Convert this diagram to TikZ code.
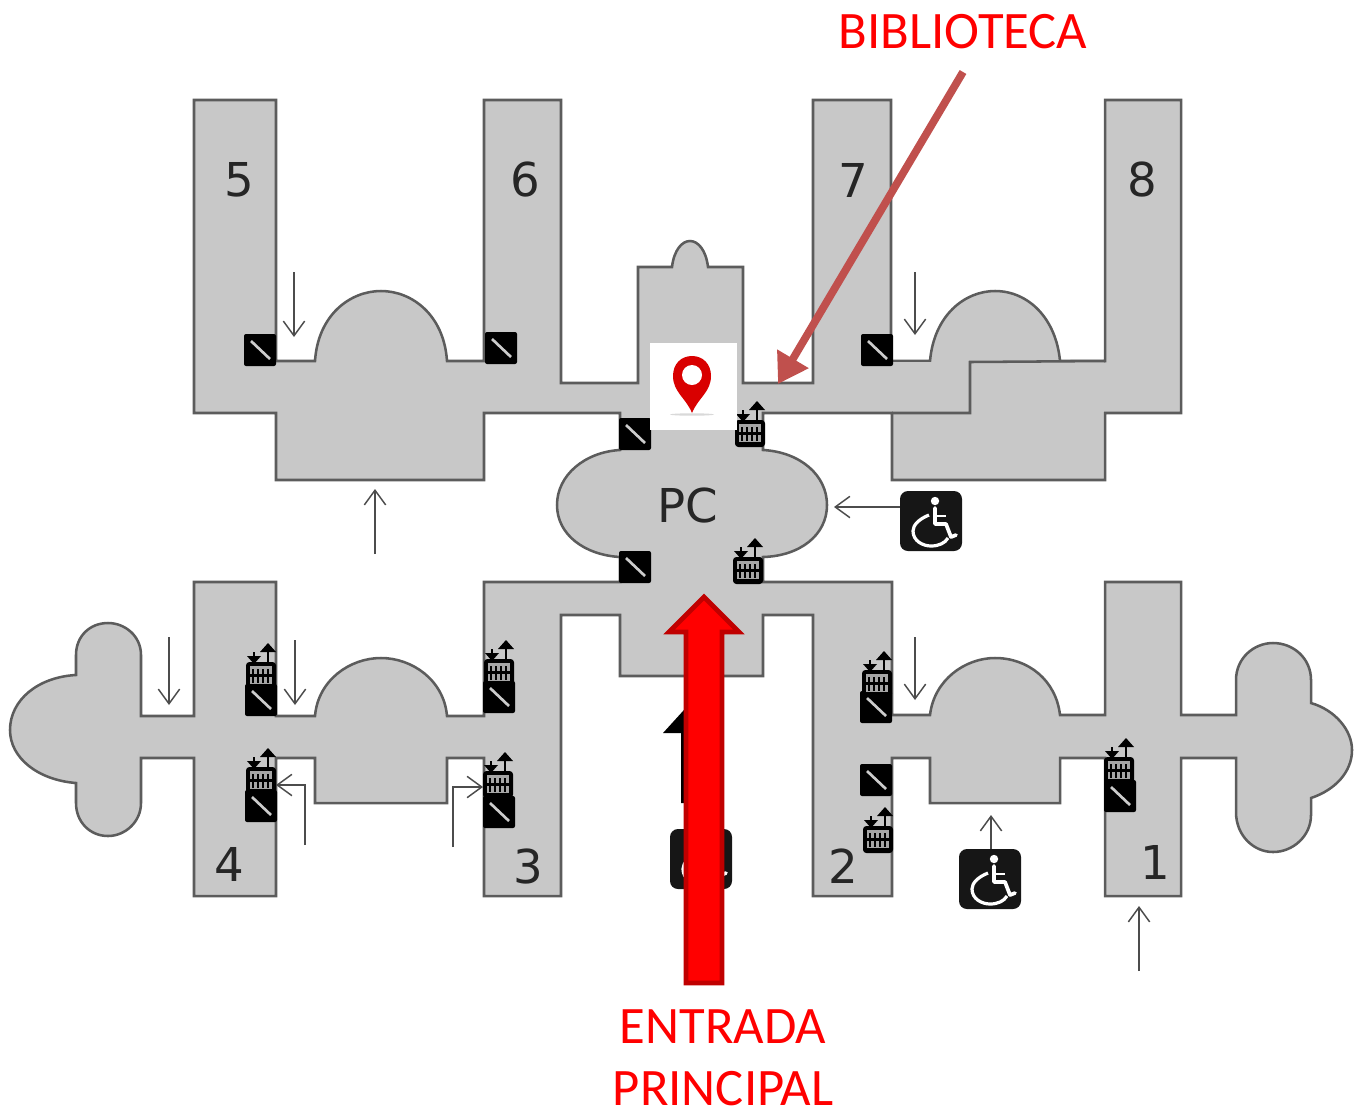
\documentclass[tikz,border=0pt]{standalone}
\usepackage{fontspec}
\setmainfont{DejaVu Sans}
\newfontfamily\carl{Carlito}
\usetikzlibrary{arrows.meta}
\definecolor{floorgray}{HTML}{C8C8C8}
\definecolor{wallgray}{HTML}{5C5C5C}
\definecolor{iconblack}{HTML}{161616}
\definecolor{libarrow}{HTML}{C0504D}
\definecolor{darkred}{HTML}{C00000}
\tikzset{
  floorplan/.style={fill=floorgray,draw=wallgray,line width=1.9pt,line join=miter},
  wallline/.style={draw=wallgray,line width=1.9pt},
  walker/.style={draw=black!70,line width=1.1pt,-{Straight Barb[length=11pt,width=16pt,line width=1.1pt]}},
  numlabel/.style={font=\fontsize{35}{35}\selectfont,text=black!85,inner sep=0pt},
  redlabel/.style={font=\carl\fontsize{39.5}{39.5}\selectfont,text=red,inner sep=0pt,anchor=base},
  escal/.pic={
    \fill[black,rounded corners=1.5pt] (-16,-16) rectangle (16,16);
    \draw[white!80!black,line width=2pt] (-9,-9) -- (10,9);
  },
  elev/.pic={
    \draw[black,line width=2pt] (-7,-3) -- (-7,-14);
    \fill[black] (-14,-10) -- (-7,-2) -- (0,-10) -- cycle;
    \draw[black,line width=2pt] (7,-3) -- (7,-14);
    \fill[black] (-1,-14) -- (7,-23) -- (15,-14) -- cycle;
    \fill[black,rounded corners=2.5pt] (-15,-4) rectangle (15,23);
    \fill[black!35] (-11,0) rectangle (11,18);
    \foreach \xx in {-8,-3,2,7} {
      \fill[black] (\xx-1,3) rectangle (\xx+1,8);
      \fill[black] (\xx-1,11) rectangle (\xx+1,17);
    }
    \fill[black] (-11,8) rectangle (11,10.5);
  },
  wheelc/.pic={
    \fill[iconblack,rounded corners=6pt] (-31,-30) rectangle (31,30);
    \fill[white] (4,-20) circle[radius=4.2];
    \draw[white,line width=2.8pt,line cap=round,line join=round]
      (4,-13) -- (4,3) -- (15,3) -- (20,16) -- (25,14);
    \draw[white,line width=2.2pt] (4,-5) -- (15,-5);
    \draw[white,line width=2.4pt] (-2,-6) .. controls (-12,-2) and (-18,4) .. (-18,10)
      .. controls (-18,20) and (-8,25) .. (0,25)
      .. controls (8,25) and (14,22) .. (17,17);
  }
}
\begin{document}
\begin{tikzpicture}[x=0.75pt,y=-0.75pt]
\useasboundingbox (0,0) rectangle (1362,1111);
% floor plan outline
\path[floorplan]
 (194,100) -- (276,100) -- (276,361) -- (315,361)
 .. controls (318,315) and (350,291) .. (381,291)
 .. controls (412,291) and (444,315) .. (447,361)
 -- (484,361) -- (484,100) -- (561,100) -- (561,383) -- (638,383) -- (638,267) -- (672,267)
 .. controls (674,250) and (682,241) .. (690,241)
 .. controls (698,241) and (706,250) .. (708,267)
 -- (743,267) -- (743,383) -- (813,383) -- (813,100) -- (891,100) -- (891,361) -- (930,361)
 .. controls (934,315) and (965,291) .. (995,291)
 .. controls (1028,291) and (1056,318) .. (1060,361)
 -- (1105,361) -- (1105,100) -- (1181,100) -- (1181,413) -- (1105,413) -- (1105,480) -- (892,480) -- (892,413)
 -- (763,413) -- (763,450)
 .. controls (800,452) and (827,475) .. (827,505)
 .. controls (827,535) and (800,556) .. (763,557)
 -- (763,582) -- (892,582) -- (892,715) -- (930,715)
 .. controls (934,680) and (965,658) .. (995,658)
 .. controls (1028,658) and (1056,680) .. (1060,715)
 -- (1105,715) -- (1105,582) -- (1181,582) -- (1181,715) -- (1236,715) -- (1236,680)
 .. controls (1236,658) and (1254,643) .. (1273,643)
 .. controls (1293,643) and (1311,658) .. (1311,680)
 -- (1311,703)
 .. controls (1335,710) and (1352,730) .. (1352,750)
 .. controls (1352,772) and (1335,790) .. (1311,798)
 -- (1311,815)
 .. controls (1311,836) and (1293,852) .. (1273,852)
 .. controls (1254,852) and (1236,836) .. (1236,812)
 -- (1236,758) -- (1181,758) -- (1181,896) -- (1105,896) -- (1105,758) -- (1060,758) -- (1060,803) -- (930,803) -- (930,758) -- (892,758)
 -- (892,896) -- (813,896) -- (813,615) -- (763,615) -- (763,676) -- (620,676) -- (620,615) -- (561,615)
 -- (561,896) -- (484,896) -- (484,758) -- (447,758) -- (447,803) -- (315,803) -- (315,758) -- (276,758)
 -- (276,896) -- (194,896) -- (194,758) -- (141,758) -- (141,803)
 .. controls (141,822) and (125,836) .. (108,836)
 .. controls (90,836) and (76,822) .. (76,803)
 -- (76,783)
 .. controls (38,780) and (10,758) .. (10,730)
 .. controls (10,700) and (38,677) .. (76,675)
 -- (76,655)
 .. controls (76,636) and (90,623) .. (108,623)
 .. controls (125,623) and (141,636) .. (141,655)
 -- (141,716) -- (194,716) -- (194,582) -- (276,582) -- (276,716) -- (315,716)
 .. controls (318,680) and (350,658) .. (381,658)
 .. controls (412,658) and (444,680) .. (447,716)
 -- (484,716) -- (484,582) -- (620,582) -- (620,557)
 .. controls (585,555) and (557,535) .. (557,505)
 .. controls (557,475) and (585,452) .. (620,450)
 -- (620,413) -- (484,413) -- (484,480) -- (276,480) -- (276,413) -- (194,413) -- cycle;
% inner wall of the right wing
\fill[floorgray] (893,362) rectangle (1104,412);
\draw[wallline] (1105,361) -- (970,362) -- (970,413) -- (892,413);
\draw[wallline] (891,361) -- (930,361);
% labels
\node[numlabel] (n5) at (239,180) {5};
\node[numlabel] (n6) at (525,180) {6};
\node[numlabel] (n7) at (853,180) {7};
\node[numlabel] (n8) at (1142,180) {8};
\node[numlabel] (npc) at (688,505) {PC};
\node[numlabel] (n4) at (229,864) {4};
\node[numlabel] (n3) at (528,866) {3};
\node[numlabel] (n2) at (843,866) {2};
\node[numlabel] (n1) at (1155,862) {1};
% walking arrows
\draw[walker] (294,272) -- (294,337);
\draw[walker] (915,272) -- (915,335);
\draw[walker] (375,554) -- (375,489);
\draw[walker] (900,507) -- (834,507);
\draw[walker] (169,637) -- (169,705);
\draw[walker] (295,640) -- (295,705);
\draw[walker] (915,637) -- (915,700);
\draw[walker] (305,845) -- (305,785) -- (276,785);
\draw[walker] (453,847) -- (453,787) -- (483,787);
\draw[walker] (991,850) -- (991,815);
\draw[walker] (1139,971) -- (1139,906);
% escalators
\foreach \p in {(260,350),(501,348),(635,434),(877,350),(635,567),(261,700),(261,806),(499,697),(499,812),(876,707),(876,780),(1120,796)}
  \pic at \p {escal};
% lifts
\foreach \p in {(750,424),(748,561),(261,666),(261,771),(499,663),(498,775),(877,674),(878,830),(1119,761)}
  \pic at \p {elev};
% wheelchair signs
\pic at (931,521) {wheelc};
\pic at (990,879) {wheelc};
\pic at (701,859) {wheelc};
% black arrow behind the red one
\fill[black] (681,803) -- (681,733) -- (663,733) -- (693,700) -- (723,733) -- (705,733) -- (705,803) -- cycle;
% location pin
\fill[white] (650,343) rectangle (737,430);
\fill[black!15] (692,414.5) ellipse[x radius=22,y radius=1.2];
\fill[red!85!black] (692,413) .. controls (686,398) and (673,392) .. (673,376)
  .. controls (673,364) and (681,356) .. (692,356)
  .. controls (703,356) and (711,364) .. (711,376)
  .. controls (711,392) and (698,398) .. (692,413) -- cycle;
\fill[white] (692,375) circle[radius=10];
% red arrows and captions
\path[fill=red,draw=darkred,line width=3.5pt,line join=miter]
  (704,597) -- (739,632) -- (722,632) -- (722,983) -- (686,983) -- (686,632) -- (669,632) -- cycle;
\node[redlabel] (biblio) at (963,48) {BIBLIOTECA};
\node[redlabel] (entr) at (723,1043) {ENTRADA};
\node[redlabel] (princ) at (723,1105) {PRINCIPAL};
\coordinate (libstart) at (963,72);
\coordinate (libend) at (778,384);
\draw[libarrow,line width=5.8pt,-{Triangle[length=22pt,width=26pt]}] (libstart) -- (libend);
\end{tikzpicture}
\end{document}
